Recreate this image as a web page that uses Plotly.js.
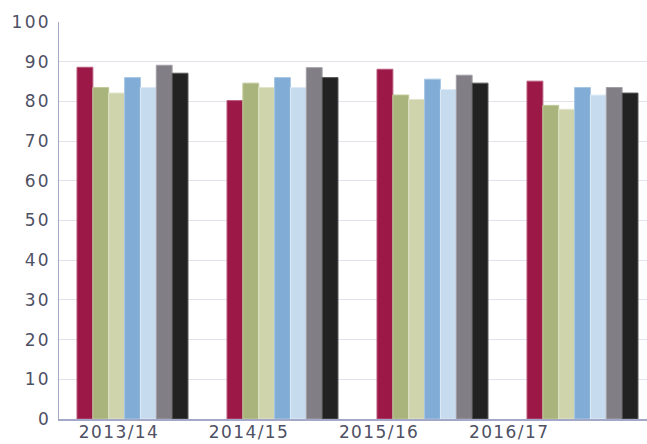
<!DOCTYPE html>
<html>
<head>
<meta charset="utf-8">
<script src="https://cdn.plot.ly/plotly-3.0.1.min.js"></script>
<style>
html,body{margin:0;padding:0;background:#fff;}
#chart{width:647px;height:444px;}
#chart .ytick text{letter-spacing:2.4px;}
#chart .x2tick text{letter-spacing:1.4px;}
</style>
</head>
<body>
<div id="chart"></div>
<script>
const categories = ["2013/14", "2014/15", "2015/16", "2016/17"];
const series1 = [88.6, 80.2, 88.1, 85.1];
const series2 = [83.5, 84.6, 81.6, 79.0];
const series3 = [82.1, 83.5, 80.5, 78.0];
const series4 = [86.0, 86.0, 85.6, 83.5];
const series5 = [83.5, 83.5, 83.0, 81.6];
const series6 = [89.1, 88.5, 86.6, 83.5];
const series7 = [87.1, 86.0, 84.6, 82.1];
const seriesValues = [series1, series2, series3, series4, series5, series6, series7];
const seriesNames = ["S1", "S2", "S3", "S4", "S5", "S6", "S7"];
const colors = ["#9c1846", "#a9b47c", "#cfd4ac", "#80acd6", "#c6dbee", "#827e86", "#222222"];
const edges = ["#b85a7c", "#c0c99a", "#e2e5cc", "#a6c6e4", "#deebf6", "#a29ea6", "#5a5a5a"];

const idx = categories.map((c, i) => i);
const traces = seriesValues.map((vals, k) => ({
  type: "bar",
  x: idx,
  y: vals,
  name: seriesNames[k],
  marker: {color: colors[k], line: {color: edges[k], width: 1}},
  hoverinfo: "y",
  showlegend: false
}));
// label axis carrier
traces.push({
  type: "scatter", mode: "markers", x: idx, y: idx.map(() => null),
  xaxis: "x2", showlegend: false, hoverinfo: "skip"
});

const layout = {
  width: 647, height: 444,
  margin: {l: 59, r: 0, t: 22, b: 25, pad: 0},
  paper_bgcolor: "#fff", plot_bgcolor: "#fff",
  barmode: "group", bargap: 0.26, bargroupgap: 0,
  showlegend: false,
  font: {family: "DejaVu Sans", size: 17, color: "#4e5064"},
  xaxis: {
    type: "linear", range: [-0.49, 3.43],
    showticklabels: false, showgrid: false, zeroline: false,
    showline: true, linecolor: "#a4a8c8", linewidth: 1.5, ticks: ""
  },
  xaxis2: {
    type: "linear", overlaying: "x", side: "bottom", anchor: "y",
    range: [-0.4615, 4.06],
    tickmode: "array", tickvals: idx, ticktext: categories,
    showgrid: false, zeroline: false, showline: false, ticks: "",
    tickfont: {family: "DejaVu Sans", size: 17, color: "#4e5064"},
    ticklabelstandoff: 1
  },
  yaxis: {
    range: [0, 100], tickmode: "linear", tick0: 0, dtick: 10,
    showgrid: true, gridcolor: "#e2e2ee", gridwidth: 1,
    zeroline: false, showline: true, linecolor: "#a4a8c8", linewidth: 1.5,
    ticks: "", ticklabelstandoff: 3,
    tickfont: {family: "DejaVu Sans", size: 17, color: "#4e5064"}
  }
};

Plotly.newPlot("chart", traces, layout, {displayModeBar: false, staticPlot: true});
</script>
</body>
</html>
